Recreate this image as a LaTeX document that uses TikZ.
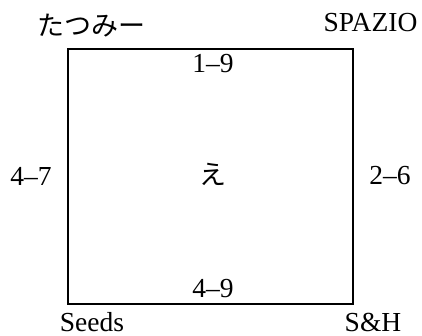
\documentclass[tikz,border=0pt]{standalone}
\usepackage{fontspec}
\setmainfont{Liberation Serif}
\newfontfamily\jpfont{Noto Sans CJK JP}
\begin{document}
\begin{tikzpicture}[x=1pt,y=-1pt,
  lbl/.style={anchor=base,inner sep=0pt,font=\fontsize{27.5}{30}\selectfont},
  jlbl/.style={anchor=base,inner sep=0pt,font=\jpfont\fontsize{27}{30}\selectfont},
  boxline/.style={draw=black,line width=2pt}]
\useasboundingbox (0,0) rectangle (422,336);
\coordinate (tl) at (68,49);
\coordinate (br) at (353,304);
\draw[boxline] (tl) rectangle (br);
\node[jlbl] (tatsumi) at (91.5,36) {たつみー};
\node[lbl] (spazio) at (370.5,32) {SPAZIO};
\node[lbl] (top) at (213,73) {1–9};
\node[lbl] (left) at (31,186) {4–7};
\node[jlbl] (center) at (213,185) {え};
\node[lbl] (right) at (390,185) {2–6};
\node[lbl] (bottom) at (213,297) {4–9};
\node[lbl] (seeds) at (92,331) {Seeds};
\node[lbl] (sh) at (373,331) {S\&H};
\end{tikzpicture}
\end{document}
